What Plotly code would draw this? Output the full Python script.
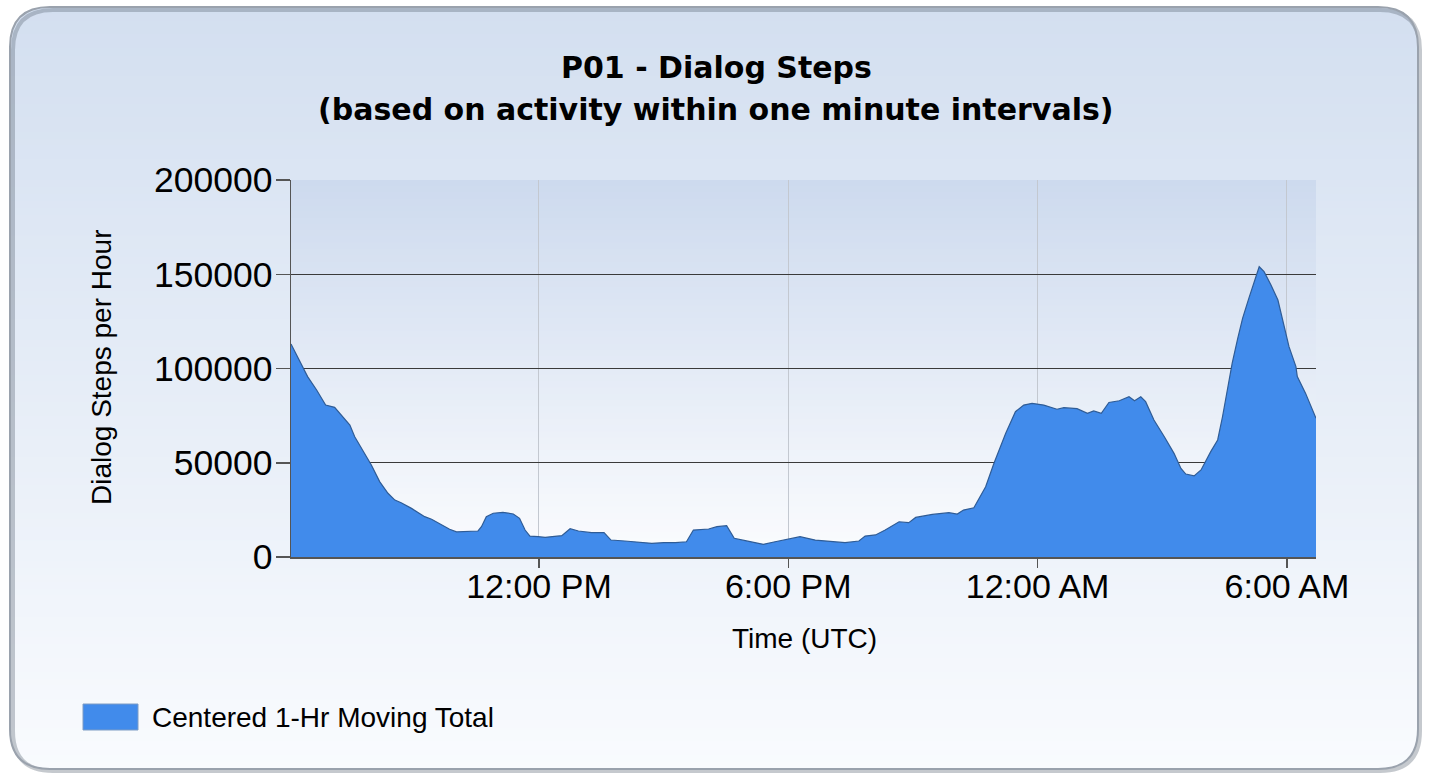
import plotly.graph_objects as go

# ---- data (centered 1-hr moving total of dialog steps) ----
times = [
    "2024-05-13 06:02", "2024-05-13 06:19", "2024-05-13 06:26", "2024-05-13 06:39", "2024-05-13 06:52",
    "2024-05-13 07:05", "2024-05-13 07:17", "2024-05-13 07:27", "2024-05-13 07:34", "2024-05-13 07:46",
    "2024-05-13 07:58", "2024-05-13 08:10", "2024-05-13 08:22", "2024-05-13 08:32", "2024-05-13 08:41",
    "2024-05-13 08:56", "2024-05-13 09:15", "2024-05-13 09:25", "2024-05-13 09:39", "2024-05-13 09:51",
    "2024-05-13 10:01", "2024-05-13 10:15", "2024-05-13 10:32", "2024-05-13 10:37", "2024-05-13 10:44",
    "2024-05-13 10:54", "2024-05-13 11:08", "2024-05-13 11:23", "2024-05-13 11:32", "2024-05-13 11:40",
    "2024-05-13 11:47", "2024-05-13 11:59", "2024-05-13 12:09", "2024-05-13 12:33", "2024-05-13 12:45",
    "2024-05-13 12:57", "2024-05-13 13:16", "2024-05-13 13:34", "2024-05-13 13:44", "2024-05-13 14:04",
    "2024-05-13 14:19", "2024-05-13 14:43", "2024-05-13 15:00", "2024-05-13 15:17", "2024-05-13 15:33",
    "2024-05-13 15:43", "2024-05-13 16:05", "2024-05-13 16:17", "2024-05-13 16:31", "2024-05-13 16:42",
    "2024-05-13 16:58", "2024-05-13 17:12", "2024-05-13 17:24", "2024-05-13 17:41", "2024-05-13 18:00",
    "2024-05-13 18:17", "2024-05-13 18:39", "2024-05-13 19:03", "2024-05-13 19:22", "2024-05-13 19:42",
    "2024-05-13 19:51", "2024-05-13 20:06", "2024-05-13 20:20", "2024-05-13 20:40", "2024-05-13 20:54",
    "2024-05-13 21:04", "2024-05-13 21:28", "2024-05-13 21:52", "2024-05-13 22:04", "2024-05-13 22:13",
    "2024-05-13 22:28", "2024-05-13 22:45", "2024-05-13 22:57", "2024-05-13 23:14", "2024-05-13 23:28",
    "2024-05-13 23:40", "2024-05-13 23:52", "2024-05-14 00:09", "2024-05-14 00:28", "2024-05-14 00:38",
    "2024-05-14 00:57", "2024-05-14 01:12", "2024-05-14 01:21", "2024-05-14 01:32", "2024-05-14 01:43",
    "2024-05-14 01:58", "2024-05-14 02:12", "2024-05-14 02:20", "2024-05-14 02:29", "2024-05-14 02:36",
    "2024-05-14 02:48", "2024-05-14 03:03", "2024-05-14 03:17", "2024-05-14 03:27", "2024-05-14 03:34",
    "2024-05-14 03:46", "2024-05-14 03:56", "2024-05-14 04:10", "2024-05-14 04:20", "2024-05-14 04:27",
    "2024-05-14 04:34", "2024-05-14 04:41", "2024-05-14 04:49", "2024-05-14 04:56", "2024-05-14 05:05",
    "2024-05-14 05:14", "2024-05-14 05:20", "2024-05-14 05:27", "2024-05-14 05:37", "2024-05-14 05:47",
    "2024-05-14 05:54", "2024-05-14 06:03", "2024-05-14 06:13", "2024-05-14 06:15", "2024-05-14 06:27",
    "2024-05-14 06:42",
]
steps = [
    113000, 101000, 95700, 88600, 80600,
    79400, 74400, 70000, 63800, 55900,
    48800, 40000, 33800, 30200, 28800,
    25800, 21400, 20000, 17000, 14700,
    13300, 13400, 13800, 16100, 21400,
    23200, 23700, 22800, 20500, 14300,
    11100, 10800, 10450, 11300, 15000,
    13800, 12900, 12900, 9000, 8500,
    8100, 7250, 7600, 7600, 8100,
    14300, 14850, 16100, 16600, 9900,
    8650, 7600, 6700, 8100, 9700,
    10800, 9000, 8100, 7600, 8500,
    11100, 11700, 14300, 18700, 18200,
    21000, 22600, 23500, 22800, 24900,
    26100, 37300, 49700, 65600, 77100,
    80600, 81500, 80600, 78400, 79200,
    78700, 76200, 77500, 76200, 82000,
    82900, 85000, 82900, 85000, 82400,
    72700, 63800, 55000, 47000, 44000,
    43000, 46200, 55900, 62100, 74400,
    88600, 102800, 116000, 126600, 137200,
    147900, 154000, 151400, 144300, 136300,
    124800, 111600, 101000, 95700, 86800,
    73600,
]
y_ticks = [0, 50000, 100000, 150000, 200000]

title_line1 = "P01 - Dialog Steps"
title_line2 = "(based on activity within one minute intervals)"
y_title = "Dialog Steps per Hour"
x_title = "Time (UTC)"
series_name = "Centered 1-Hr Moving Total"

# ---- layout geometry (pixels) ----
W, H = 1434, 776
PL, PR, PT, PB = 291, 1316, 180, 557
FILL = "#418BEB"


def fx(x):
    return (x - PL) / (PR - PL)


def fy(y):
    return (PB - y) / (PB - PT)


def lerp(c1, c2, t):
    return tuple(round(a + (b - a) * t) for a, b in zip(c1, c2))


shapes = []

# panel gradient
PX0, PY0, PX1, PY1, RAD = 10, 7, 1418, 769, 40
n = 110
top_c, bot_c = (211, 223, 240), (249, 251, 254)
for i in range(n):
    y0 = PY0 + (PY1 - PY0) * i / n
    y1 = PY0 + (PY1 - PY0) * (i + 1) / n + 0.8
    c = lerp(top_c, bot_c, (i + 0.5) / n)
    shapes.append(dict(type="rect", xref="paper", yref="paper",
                       x0=fx(PX0), x1=fx(PX1), y0=fy(y0), y1=fy(min(y1, PY1)),
                       fillcolor="rgb(%d,%d,%d)" % c, line_width=0, layer="below"))

# plot-area gradient
m = 60
ptop, pbot = (205, 218, 238), (251, 252, 254)
for i in range(m):
    y0 = PT + (PB - PT) * i / m
    y1 = PT + (PB - PT) * (i + 1) / m + 0.8
    c = lerp(ptop, pbot, (i + 0.5) / m)
    shapes.append(dict(type="rect", xref="paper", yref="paper",
                       x0=0, x1=1, y0=fy(y0), y1=fy(min(y1, PB)),
                       fillcolor="rgb(%d,%d,%d)" % c, line_width=0, layer="below"))


def P(x, y):
    return "%.5f,%.5f" % (fx(x), fy(y))


# white corner masks
corners = [
    (PX0, PY0, PX0 + RAD, PY0, PX0, PY0 + RAD),
    (PX1, PY0, PX1 - RAD, PY0, PX1, PY0 + RAD),
    (PX1, PY1, PX1, PY1 - RAD, PX1 - RAD, PY1),
    (PX0, PY1, PX0 + RAD, PY1, PX0, PY1 - RAD),
]
for cx, cy, ax, ay, bx, by in corners:
    path = "M%s L%s Q%s %s Z" % (P(cx, cy), P(ax, ay), P(cx, cy), P(bx, by))
    shapes.append(dict(type="path", xref="paper", yref="paper", path=path,
                       fillcolor="white", line_width=0, layer="below"))


def rounded(x0, y0, x1, y1, r):
    return ("M%s L%s Q%s %s L%s Q%s %s L%s Q%s %s L%s Q%s %s Z" % (
        P(x0 + r, y0), P(x1 - r, y0), P(x1, y0), P(x1, y0 + r),
        P(x1, y1 - r), P(x1, y1), P(x1 - r, y1),
        P(x0 + r, y1), P(x0, y1), P(x0, y1 - r),
        P(x0, y0 + r), P(x0, y0), P(x0 + r, y0)))


# soft shadow and border
shapes.append(dict(type="path", xref="paper", yref="paper",
                   path=rounded(PX0 + 3, PY0 + 3, PX1 + 2, PY1 + 2, RAD),
                   line=dict(color="rgba(90,100,115,0.35)", width=4), layer="below"))
shapes.append(dict(type="path", xref="paper", yref="paper",
                   path=rounded(PX0, PY0, PX1, PY1, RAD),
                   line=dict(color="#9aa2ad", width=2), layer="below"))

# legend swatch
shapes.append(dict(type="rect", xref="paper", yref="paper",
                   x0=fx(83), x1=fx(138), y0=fy(730), y1=fy(704),
                   fillcolor=FILL, line=dict(color="#7f9cc4", width=1), layer="above"))

fig = go.Figure()
fig.add_trace(go.Scatter(
    x=times, y=steps, mode="lines", fill="tozeroy", fillcolor=FILL,
    line=dict(color="#2f5c96", width=1.2), name=series_name,
    showlegend=False, hoverinfo="skip"))

annotations = [
    dict(text="<b>%s</b>" % title_line1, xref="paper", yref="paper", x=fx(716), y=fy(67.5),
         xanchor="center", yanchor="middle", showarrow=False,
         font=dict(family="DejaVu Sans", size=30, color="black")),
    dict(text="<b>%s</b>" % title_line2, xref="paper", yref="paper", x=fx(716), y=fy(110),
         xanchor="center", yanchor="middle", showarrow=False,
         font=dict(family="DejaVu Sans", size=30, color="black")),
    dict(text=y_title, xref="paper", yref="paper", x=fx(101), y=fy(368), textangle=-90,
         xanchor="center", yanchor="middle", showarrow=False,
         font=dict(family="Liberation Sans", size=28, color="black")),
    dict(text=x_title, xref="paper", yref="paper", x=fx(804), y=fy(638),
         xanchor="center", yanchor="middle", showarrow=False,
         font=dict(family="Liberation Sans", size=28, color="black")),
    dict(text=series_name, xref="paper", yref="paper", x=fx(150), y=fy(717),
         xanchor="left", yanchor="middle", showarrow=False,
         font=dict(family="Liberation Sans", size=28, color="black")),
]

fig.update_layout(
    width=W, height=H,
    margin=dict(l=PL, r=W - PR, t=PT, b=H - PB, pad=0),
    paper_bgcolor="white", plot_bgcolor="rgba(0,0,0,0)",
    shapes=shapes, annotations=annotations, showlegend=False,
    font=dict(family="Liberation Sans", size=34, color="black"),
)
fig.update_xaxes(
    type="date", range=[times[0], times[-1]],
    tick0="2024-05-13 00:00", dtick=6 * 3600 * 1000, tickformat="%-I:%M %p",
    ticks="outside", ticklen=9, tickcolor="#555555", tickwidth=1.5,
    showline=True, linecolor="#555555", linewidth=1.5,
    showgrid=True, gridcolor="#c3c8d0", gridwidth=1, zeroline=False,
    tickfont=dict(family="Liberation Sans", size=34, color="black"),
    ticklabelstandoff=-10,
)
fig.update_yaxes(
    range=[0, 200000], tickvals=y_ticks, tickformat="d",
    ticks="outside", ticklen=14, tickcolor="#555555", tickwidth=1.5,
    showline=True, linecolor="#555555", linewidth=1.5,
    showgrid=True, gridcolor="#3a3a3a", gridwidth=1.2, zeroline=False,
    tickfont=dict(family="Liberation Sans", size=35.5, color="black"),
    ticklabelstandoff=-4,
)

fig.write_html(
    "out.html",
    config={"displayModeBar": False, "staticPlot": True},
    post_script="document.body.style.margin='0';document.body.style.overflow='hidden';",
)
